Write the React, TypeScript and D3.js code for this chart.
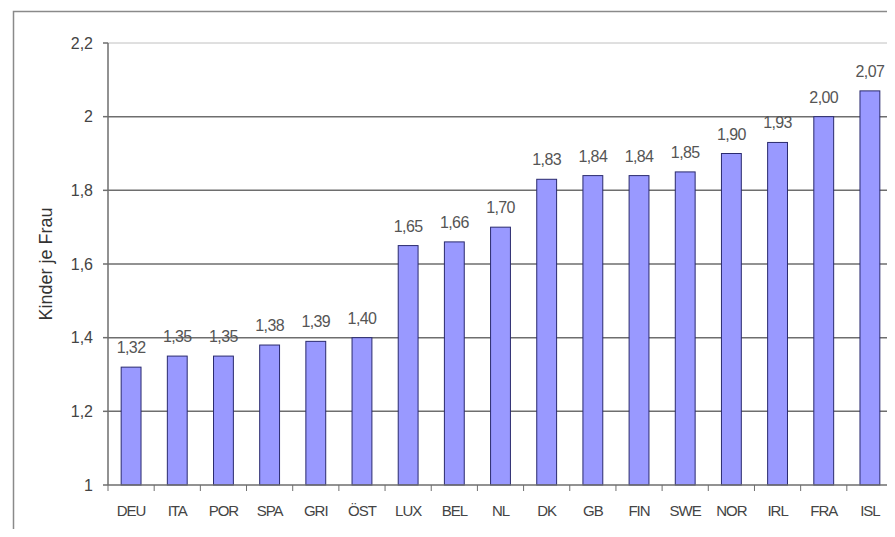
import React, { useEffect, useRef } from 'react';
import * as d3 from 'd3';

// Geburtenrate je Land (Kinder je Frau)
const countries = ['DEU', 'ITA', 'POR', 'SPA', 'GRI', 'ÖST', 'LUX', 'BEL', 'NL', 'DK', 'GB', 'FIN', 'SWE', 'NOR', 'IRL', 'FRA', 'ISL'];
const values = [1.32, 1.35, 1.35, 1.38, 1.39, 1.40, 1.65, 1.66, 1.70, 1.83, 1.84, 1.84, 1.85, 1.90, 1.93, 2.00, 2.07];
const yTicks = [1, 1.2, 1.4, 1.6, 1.8, 2, 2.2];

const fmt = (v: number) => v.toFixed(2).replace('.', ',');
const fmtTick = (v: number) => String(+v.toFixed(1)).replace('.', ',');

const font = 'Liberation Sans, Arial, sans-serif';

const App: React.FC = () => {
  const svgRef = useRef<SVGSVGElement>(null);

  useEffect(() => {
    if (!svgRef.current) return;
    const width = 895;
    const height = 537;
    const svg = d3.select(svgRef.current);
    svg.selectAll('*').remove();

    const left = 108, right = 893, top = 43, bottom = 485;

    // outer frame
    svg.append('path')
      .attr('d', `M13.5,${height} V11.5 H${width}`)
      .attr('fill', 'none')
      .attr('stroke', '#8a8a8a')
      .attr('stroke-width', 1.5);

    const x = d3.scaleBand<string>()
      .domain(countries)
      .range([left, right])
      .paddingInner(0.57)
      .paddingOuter(0.285);

    const y = d3.scaleLinear().domain([1, 2.2]).range([bottom, top]);

    // right plot border
    svg.append('line')
      .attr('x1', right).attr('x2', right)
      .attr('y1', top).attr('y2', bottom)
      .attr('stroke', '#c8c8c8');

    // grid lines
    svg.append('g')
      .selectAll('line')
      .data(yTicks.slice(1))
      .enter()
      .append('line')
      .attr('x1', left).attr('x2', right)
      .attr('y1', d => y(d)).attr('y2', d => y(d))
      .attr('stroke', d => (d > 2.1 ? '#c0c0c0' : '#6e6e6e'))
      .attr('stroke-width', d => (d > 2.1 ? 1 : 1.5));

    // bars
    svg.append('g')
      .selectAll('rect')
      .data(values)
      .enter()
      .append('rect')
      .attr('x', (d, i) => x(countries[i])!)
      .attr('width', x.bandwidth())
      .attr('y', d => y(d))
      .attr('height', d => bottom - y(d))
      .attr('fill', '#9999ff')
      .attr('stroke', '#2a2a6e')
      .attr('stroke-width', 1);

    // value labels
    svg.append('g')
      .selectAll('text')
      .data(values)
      .enter()
      .append('text')
      .attr('x', (d, i) => x(countries[i])! + x.bandwidth() / 2)
      .attr('y', d => y(d) - 14)
      .attr('text-anchor', 'middle')
      .attr('font-family', font)
      .attr('font-size', 16)
      .attr('letter-spacing', -0.6)
      .attr('fill', '#555')
      .text(d => fmt(d));

    // y axis
    svg.append('line')
      .attr('x1', left).attr('x2', left)
      .attr('y1', top).attr('y2', bottom)
      .attr('stroke', '#6e6e6e').attr('stroke-width', 1.5);

    const yt = svg.append('g');
    yt.selectAll('line')
      .data(yTicks)
      .enter()
      .append('line')
      .attr('x1', left - 5).attr('x2', left)
      .attr('y1', d => y(d)).attr('y2', d => y(d))
      .attr('stroke', '#6e6e6e').attr('stroke-width', 1.5);
    yt.selectAll('text')
      .data(yTicks)
      .enter()
      .append('text')
      .attr('x', left - 15)
      .attr('y', d => y(d))
      .attr('dy', '0.36em')
      .attr('text-anchor', 'end')
      .attr('font-family', font)
      .attr('font-size', 16)
      .attr('fill', '#444')
      .text(d => fmtTick(d));

    // x axis
    svg.append('line')
      .attr('x1', left).attr('x2', right)
      .attr('y1', bottom).attr('y2', bottom)
      .attr('stroke', '#6e6e6e').attr('stroke-width', 1.5);

    const step = x.step();
    const xt = svg.append('g');
    xt.selectAll('line')
      .data(d3.range(countries.length + 1))
      .enter()
      .append('line')
      .attr('x1', i => left + i * step).attr('x2', i => left + i * step)
      .attr('y1', bottom).attr('y2', bottom + 6)
      .attr('stroke', '#6e6e6e');
    xt.selectAll('text')
      .data(countries)
      .enter()
      .append('text')
      .attr('x', d => x(d)! + x.bandwidth() / 2)
      .attr('y', bottom + 31)
      .attr('text-anchor', 'middle')
      .attr('font-family', font)
      .attr('font-size', 15)
      .attr('letter-spacing', -1)
      .attr('fill', '#444')
      .text(d => d);

    // y axis title
    svg.append('text')
      .attr('transform', `translate(52, ${(top + bottom) / 2 + 0}) rotate(-90)`)
      .attr('text-anchor', 'middle')
      .attr('font-family', font)
      .attr('font-size', 18)
      .attr('fill', '#333')
      .text('Kinder je Frau');
  }, []);

  return (
    <div style={{ margin: -8 }}>
      <svg ref={svgRef} width={895} height={537} style={{ display: 'block', background: '#fff' }} />
    </div>
  );
};

export default App;
